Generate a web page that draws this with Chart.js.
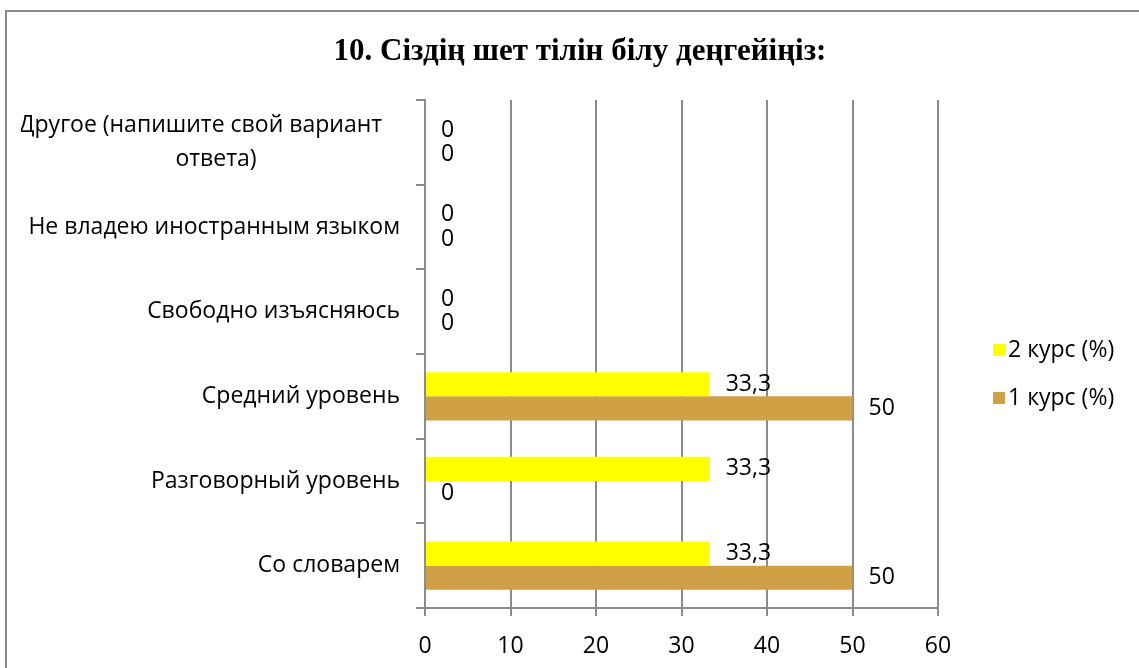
<!DOCTYPE html>
<html>
<head>
<meta charset="utf-8">
<script src="https://cdn.jsdelivr.net/npm/chart.js@4.4.1/dist/chart.umd.min.js"></script>
<style>
  html, body { margin: 0; padding: 0; background: #ffffff; }
  #wrap { position: relative; width: 1139px; height: 668px; }
</style>
</head>
<body>
<div id="wrap"><canvas id="c" width="1139" height="668"></canvas></div>
<script>
// ---- data ----
const chartTitle = "10. Сіздің шет тілін білу деңгейіңіз:";
const categories = [
  ["Другое (напишите свой вариант   ", "ответа)                        "],
  "Не владею иностранным языком",
  "Свободно изъясняюсь",
  "Средний уровень",
  "Разговорный уровень",
  "Со словарем"
];
const seriesNames = ["2 курс (%)", "1 курс (%)"];
const course2 = [0, 0, 0, 33.3, 33.3, 33.3];
const course1 = [0, 0, 0, 50, 0, 50];
const seriesColors = ["#FFFF00", "#D0A044"];
const xMin = 0, xMax = 60, xStep = 10;

// ---- styles ----
const FONT = "'Open Sans', 'Noto Sans', sans-serif";
const FS = 23;
const GRID = "#8c8c8c";

const framePlugin = {
  id: "frame",
  beforeDraw(chart) {
    const ctx = chart.ctx;
    ctx.save();
    ctx.fillStyle = "#ffffff";
    ctx.fillRect(0, 0, chart.width, chart.height);
    ctx.strokeStyle = "#8a8a8a";
    ctx.lineWidth = 2;
    ctx.beginPath();
    ctx.moveTo(6, chart.height);
    ctx.lineTo(6, 11);
    ctx.lineTo(chart.width, 11);
    ctx.stroke();
    ctx.restore();
  }
};

const valueLabels = {
  id: "valueLabels",
  afterDatasetsDraw(chart) {
    const ctx = chart.ctx;
    ctx.save();
    ctx.font = FS + "px " + FONT;
    ctx.fillStyle = "#000";
    ctx.textAlign = "left";
    ctx.textBaseline = "middle";
    chart.data.datasets.forEach((ds, i) => {
      const meta = chart.getDatasetMeta(i);
      meta.data.forEach((el, j) => {
        const txt = String(ds.data[j]).replace(".", ",");
        ctx.fillText(txt, el.x + 16, el.y);
      });
    });
    ctx.restore();
  }
};

const sideLegend = {
  id: "sideLegend",
  afterDraw(chart) {
    const ctx = chart.ctx;
    ctx.save();
    ctx.font = FS + "px " + FONT;
    ctx.textAlign = "left";
    ctx.textBaseline = "middle";
    chart.data.datasets.forEach((ds, i) => {
      const cy = 350 + i * 48;
      ctx.fillStyle = ds.backgroundColor;
      ctx.fillRect(993, cy - 6, 12, 12);
      ctx.fillStyle = "#000";
      ctx.fillText(ds.label, 1008, cy);
    });
    ctx.restore();
  }
};

new Chart(document.getElementById("c"), {
  type: "bar",
  data: {
    labels: categories,
    datasets: [
      { label: seriesNames[0], data: course2, backgroundColor: seriesColors[0], borderWidth: 0 },
      { label: seriesNames[1], data: course1, backgroundColor: seriesColors[1], borderWidth: 0 }
    ]
  },
  options: {
    indexAxis: "y",
    responsive: false,
    animation: false,
    devicePixelRatio: 1,
    layout: { padding: { left: 21, right: 0, top: 0, bottom: 0 } },
    datasets: { bar: { categoryPercentage: 2 / 3.5, barPercentage: 1 } },
    plugins: {
      legend: { display: false },
      tooltip: { enabled: false },
      title: {
        display: true,
        text: chartTitle,
        color: "#000",
        font: { family: "'Liberation Serif', 'DejaVu Serif', serif", size: 31, weight: "bold", lineHeight: 1.2 },
        padding: { top: 33.4, bottom: 29.4 }
      }
    },
    scales: {
      x: {
        type: "linear",
        position: "bottom",
        min: xMin, max: xMax,
        ticks: { stepSize: xStep, color: "#000", font: { family: FONT, size: FS, lineHeight: 1.2 }, padding: 17 },
        grid: { color: GRID, lineWidth: 2, tickLength: 8, drawTicks: true },
        border: { color: GRID, width: 2 },
        afterFit(s) { s.height = 60; }
      },
      y: {
        type: "category",
        position: "left",
        ticks: { color: "#000", font: { family: FONT, size: FS, lineHeight: 1.45 }, padding: 16 },
        grid: { drawOnChartArea: false, drawTicks: true, tickLength: 9, color: GRID, lineWidth: 2, offset: true },
        border: { color: GRID, width: 2 },
        afterFit(s) { s.width = 404; }
      },
      yRight: {
        type: "category",
        position: "right",
        display: true,
        ticks: { display: false },
        grid: { display: false, drawTicks: false },
        border: { display: false },
        afterFit(s) { s.width = 201; }
      }
    }
  },
  plugins: [framePlugin, valueLabels, sideLegend]
});
</script>
</body>
</html>
